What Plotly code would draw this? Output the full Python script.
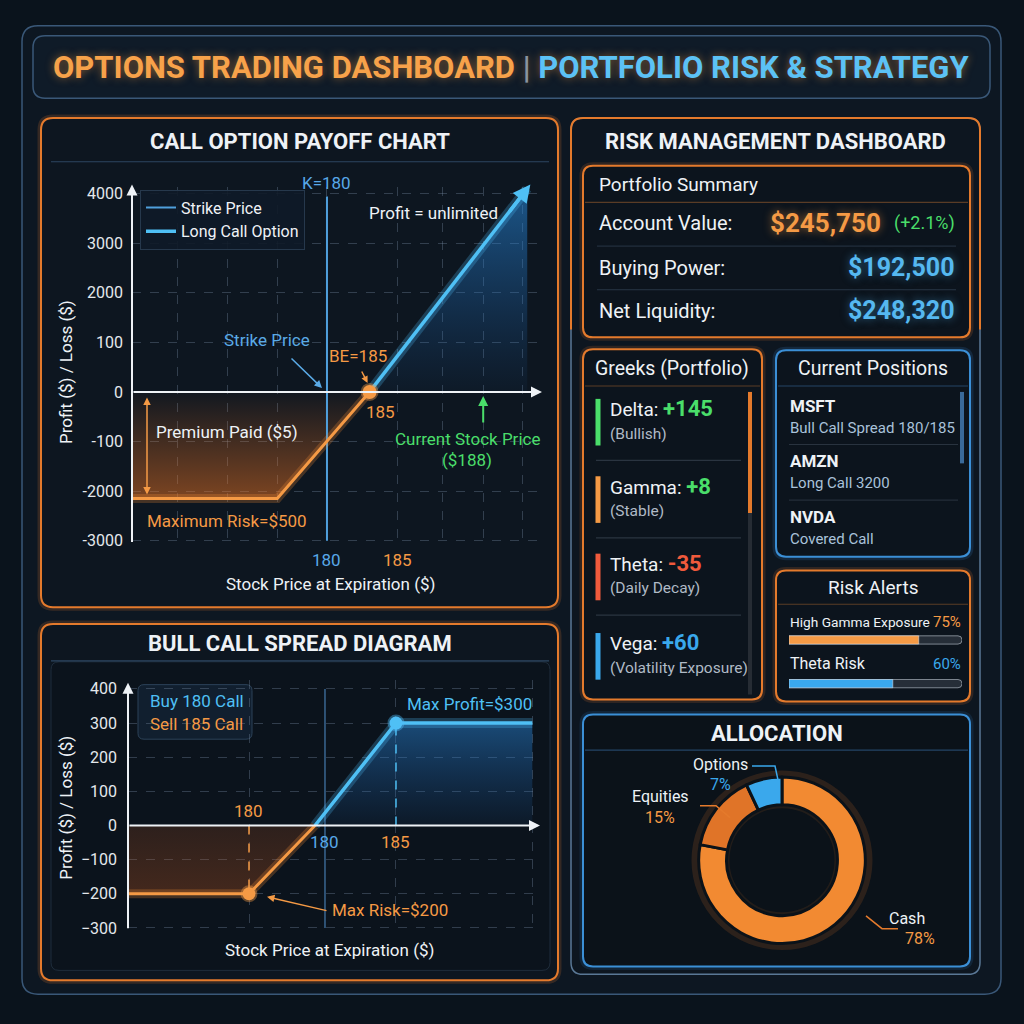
import plotly.graph_objects as go

W = H = 1024
def X(p): return p / W
def Y(p): return 1 - p / H

# ---------------- data ----------------
call_x = [166.3, 176.5, 183.0, 194.1]          # stock price positions of the long-call payoff
call_y = [-2.15, -2.15, 0.0, 4.1]               # payoff in tick-index units of the labelled axis
call_ytick_pos = [-3, -2, -1, 0, 1, 2, 3, 4]
call_ytick_text = ["-3000", "-2000", "-100", "0", "100", "2000", "3000", "4000"]
call_xgrid = [169.5, 173.0, 176.5, 180.0, 185.0, 188.1, 191.0, 193.8]
strike_price = 180
strike_top = 3.94
breakeven_x = 183.0
current_price_x = 191.0

spread_x = [166.13, 174.65, 179.3, 185.0, 194.6]
spread_y = [-200, -200, 0, 300, 300]
spread_yticks = [-300, -200, -100, 0, 100, 200, 300, 400]
spread_xgrid = [174.65, 185.0, 194.6]

alloc_labels = ["Cash", "Equities", "Options"]
alloc_values = [78, 15, 7]

alert_labels = ["High Gamma Exposure", "Theta Risk"]
alert_values = [75, 60]

greek_names = ["Delta", "Gamma", "Theta", "Vega"]
greek_values = ["+145", "+8", "-35", "+60"]
greek_notes = ["(Bullish)", "(Stable)", "(Daily Decay)", "(Volatility Exposure)"]

position_tickers = ["MSFT", "AMZN", "NVDA"]
position_desc = ["Bull Call Spread 180/185", "Long Call 3200", "Covered Call"]

summary_labels = ["Account Value:", "Buying Power:", "Net Liquidity:"]
summary_values = ["$245,750", "$192,500", "$248,320"]
account_change = "(+2.1%)"

# ---------------- styles ----------------
FONT = "Roboto"
ORANGE = "#f59a45"
ORANGE_D = "#e47a2c"
BLUE = "#4fc0f5"
BLUE_S = "#4f9fdc"
GREEN = "#4ade6a"
RED = "#f05a3c"
WHITE = "#eef2f6"
GREY_T = "#b0bac6"
BORDER_B = "#3a5878"
GRID = "rgba(120,140,165,0.35)"
BG = "#0a131c"
PANEL = "#0d1620"

fig = go.Figure()
shapes = []
annotations = []


def rpath(x0, y0, x1, y1, r):
    a0, a1 = X(x0), X(x1)
    b0, b1 = Y(y0), Y(y1)
    rx, ry = r / W, r / H
    return (f"M {a0+rx},{b0} L {a1-rx},{b0} Q {a1},{b0} {a1},{b0-ry} "
            f"L {a1},{b1+ry} Q {a1},{b1} {a1-rx},{b1} L {a0+rx},{b1} "
            f"Q {a0},{b1} {a0},{b1+ry} L {a0},{b0-ry} Q {a0},{b0} {a0+rx},{b0} Z")


def rrect(x0, y0, x1, y1, r=10, line=None, width=1.5, fill=None, glow=None):
    p = rpath(x0, y0, x1, y1, r)
    if glow:
        shapes.append(dict(type="path", path=p, xref="paper", yref="paper",
                           line=dict(color=glow, width=7), layer="below"))
    shapes.append(dict(type="path", path=p, xref="paper", yref="paper",
                       line=dict(color=line or "rgba(0,0,0,0)", width=width if line else 0),
                       fillcolor=fill or "rgba(0,0,0,0)", layer="below"))


def seg(x0, y0, x1, y1, color, width=1, dash=None):
    shapes.append(dict(type="line", xref="paper", yref="paper",
                       x0=X(x0), y0=Y(y0), x1=X(x1), y1=Y(y1),
                       line=dict(color=color, width=width, dash=dash), layer="below"))


def txt(s, x, y, size=17, color=WHITE, xanchor="center", weight=None, shadow=None, angle=0):
    f = dict(family=FONT, size=size, color=color)
    if weight:
        f["weight"] = weight
    if shadow:
        f["shadow"] = shadow
    annotations.append(dict(text=s, x=X(x), y=Y(y), xref="paper", yref="paper",
                            xanchor=xanchor, yanchor="middle", showarrow=False,
                            font=f, textangle=angle))


def arrow(tipx, tipy, tailx, taily, color, width=2, head=2, size=1.0, side="end"):
    annotations.append(dict(text="", x=X(tipx), y=Y(tipy), xref="paper", yref="paper",
                            ax=tailx - tipx, ay=taily - tipy, axref="pixel", ayref="pixel",
                            showarrow=True, arrowhead=head, arrowsize=size, arrowwidth=width,
                            arrowcolor=color, arrowside=side, startarrowhead=head,
                            startarrowsize=size, standoff=0, startstandoff=0))


# ---------------- frames ----------------
rrect(22, 24, 1001, 1000, 16, line=BORDER_B, width=1.5, fill="#0d1722")
rrect(33, 34, 990, 97, 12, line=BORDER_B, width=1.5, fill="#0f1b28")
rrect(41, 117, 558, 610, 12, line=ORANGE_D, width=2, fill=PANEL, glow="rgba(240,130,50,0.18)")
rrect(41, 627, 558, 986, 12, line=ORANGE_D, width=2, fill=PANEL, glow="rgba(240,130,50,0.18)")
rrect(51, 665, 550, 976, 8, line="#1f2d3c", width=1, fill="#0b131c")
rrect(571, 117, 980, 980, 12, line="#5a7896", width=1.5, fill=PANEL)
# orange upper part of the right panel border
shapes.append(dict(type="path", xref="paper", yref="paper", layer="below",
                   path=(f"M {X(571)},{Y(330)} L {X(571)},{Y(129)} Q {X(571)},{Y(117)} {X(583)},{Y(117)} "
                         f"L {X(968)},{Y(117)} Q {X(980)},{Y(117)} {X(980)},{Y(129)} L {X(980)},{Y(330)}"),
                   line=dict(color=ORANGE_D, width=2)))
seg(51, 161, 549, 161, "#2c4660", 1.2)
seg(51, 664, 549, 664, "#2c4660", 1.2)

# right side boxes
rrect(583, 165, 970, 338, 10, line=ORANGE_D, width=2, fill="#0c141d", glow="rgba(240,130,50,0.15)")
seg(585, 202, 968, 202, "#5a3c26", 1.2)
seg(597, 246, 956, 246, "#283646", 1)
seg(597, 290, 956, 290, "#283646", 1)

rrect(583, 350, 762, 703, 10, line=ORANGE_D, width=2, fill="#0c141d", glow="rgba(240,130,50,0.15)")
seg(585, 387, 760, 387, "#5a3c26", 1.2)
for yy in (462, 540, 618):
    seg(596, yy, 741, yy, "#2a3440", 1.2)
seg(750, 393, 750, 698, "#262c34", 4)
seg(750, 393, 750, 515, ORANGE_D, 4)

rrect(776, 351, 970, 559, 10, line="#3b8fd6", width=2, fill="#0c141d", glow="rgba(60,150,230,0.15)")
seg(778, 387, 968, 387, "#254466", 1.2)
seg(789, 446, 958, 446, "#2a3440", 1)
seg(789, 502, 958, 502, "#2a3440", 1)
seg(962, 393, 962, 465, "#3a6a9a", 4)

rrect(776, 573, 970, 705, 10, line=ORANGE_D, width=2, fill="#0c141d", glow="rgba(240,130,50,0.15)")
seg(778, 607, 968, 607, "#5a3c26", 1.2)

rrect(583, 718, 970, 972, 10, line="#3b8fd6", width=2, fill="#0b1219", glow="rgba(60,150,230,0.12)")
seg(585, 754, 968, 754, "#254466", 1.2)

# ---------------- chart 1: long call payoff ----------------
fig.add_trace(go.Scatter(x=call_x[:3], y=call_y[:3], mode="lines", line=dict(width=0),
                         fill="tozeroy",
                         fillgradient=dict(type="vertical",
                                           colorscale=[[0, "rgba(235,115,35,0.50)"], [1, "rgba(235,115,35,0.02)"]]),
                         xaxis="x", yaxis="y", showlegend=False, hoverinfo="skip"))
fig.add_trace(go.Scatter(x=call_x[2:], y=call_y[2:], mode="lines", line=dict(width=0),
                         fill="tozeroy",
                         fillgradient=dict(type="vertical",
                                           colorscale=[[0, "rgba(30,100,180,0.05)"], [1, "rgba(40,140,225,0.55)"]]),
                         xaxis="x", yaxis="y", showlegend=False, hoverinfo="skip"))
fig.add_trace(go.Scatter(x=[strike_price, strike_price], y=[call_ytick_pos[0], strike_top], mode="lines",
                         line=dict(color=BLUE_S, width=2), name="Strike Price",
                         xaxis="x", yaxis="y", showlegend=True, legendrank=1))
fig.add_trace(go.Scatter(x=call_x[:3], y=call_y[:3], mode="lines",
                         line=dict(color="rgba(245,140,50,0.25)", width=9),
                         xaxis="x", yaxis="y", showlegend=False, hoverinfo="skip"))
fig.add_trace(go.Scatter(x=call_x[:3], y=call_y[:3], mode="lines", line=dict(color=ORANGE, width=3),
                         xaxis="x", yaxis="y", showlegend=False))
fig.add_trace(go.Scatter(x=call_x[2:], y=call_y[2:], mode="lines",
                         line=dict(color="rgba(80,190,250,0.25)", width=10),
                         xaxis="x", yaxis="y", showlegend=False, hoverinfo="skip"))
fig.add_trace(go.Scatter(x=call_x[2:], y=call_y[2:], mode="lines", line=dict(color=BLUE, width=3.5),
                         name="Long Call Option", xaxis="x", yaxis="y", showlegend=True, legendrank=2))
fig.add_trace(go.Scatter(x=[breakeven_x], y=[0], mode="markers",
                         marker=dict(color=ORANGE, size=14, line=dict(color="rgba(245,154,69,0.4)", width=4)),
                         xaxis="x", yaxis="y", showlegend=False))

# axis geometry chart 1
c1_dom_x = (132, 540)
c1_dom_y = (548, 186)
c1_xr = (166.27, 195.0)
c1_yr = (-3.1, 4.14)
def c1px(xv): return c1_dom_x[0] + (xv - c1_xr[0]) / (c1_xr[1] - c1_xr[0]) * (c1_dom_x[1] - c1_dom_x[0])
def c1py(yv): return c1_dom_y[0] - (yv - c1_yr[0]) / (c1_yr[1] - c1_yr[0]) * (c1_dom_y[0] - c1_dom_y[1])

# arrowhead at end of the long call line
tipx, tipy = c1px(call_x[-1]), c1py(call_y[-1])
bx, by = c1px(call_x[-2]), c1py(call_y[-2])
arrow(tipx + (tipx - bx) * 0.02, tipy + (tipy - by) * 0.02, tipx - (tipx - bx) * 0.12,
      tipy - (tipy - by) * 0.12, BLUE, width=3.5, head=2, size=1.0)

# axes arrows
arrow(132, 184, 132, c1py(-3), WHITE, width=2, head=2, size=1.1)
arrow(542, c1py(0), 132, c1py(0), WHITE, width=2, head=2, size=1.1)

txt("K=180", c1px(strike_price), 182, 17, "#58a8e8")
txt("Profit = unlimited", 433, 213, 17, WHITE)
txt("Strike Price", 267, 341, 17, "#5aaae6")
arrow(c1px(strike_price) - 5, c1py(0) - 4, 290, 358, "#5aaae6", width=1.5, head=2, size=1.0)
txt("BE=185", 358, 357, 17, ORANGE)
arrow(c1px(breakeven_x) - 2, c1py(0) - 9, 361, 371, ORANGE, width=1.5, head=2, size=0.9)
txt("185", 380, 413, 17, ORANGE)
txt("Premium Paid ($5)", 227, 433, 17, WHITE)
arrow(147, c1py(call_y[0]) - 4, 147, c1py(0) + 5, ORANGE, width=1.5, head=2, size=1.0, side="end+start")
txt("Maximum Risk=$500", 227, 523, 17, ORANGE)
txt("Current Stock Price", 467, 440, 17, GREEN)
txt("($188)", 467, 462, 17, GREEN)
arrow(c1px(current_price_x), c1py(0) + 4, c1px(current_price_x), 425, GREEN, width=2, head=2, size=1.0)
txt("180", c1px(strike_price), 562, 17, "#58a8e8")
txt("185", c1px(185), 562, 17, ORANGE)
txt("Profit ($) / Loss ($)", 66, 373, 17, WHITE, angle=-90)
txt("Stock Price at Expiration ($)", 330, 587, 17, WHITE)

# ---------------- chart 2: bull call spread ----------------
c2_dom_x = (128, 538)
c2_dom_y = (937, 683)
c2_xr = (166.13, 195.0)
c2_yr = (-311, 427)
def c2px(xv): return c2_dom_x[0] + (xv - c2_xr[0]) / (c2_xr[1] - c2_xr[0]) * (c2_dom_x[1] - c2_dom_x[0])
def c2py(yv): return c2_dom_y[0] - (yv - c2_yr[0]) / (c2_yr[1] - c2_yr[0]) * (c2_dom_y[0] - c2_dom_y[1])

fig.add_trace(go.Scatter(x=spread_x[:3], y=spread_y[:3], mode="lines", line=dict(width=0), fill="tozeroy",
                         fillgradient=dict(type="vertical",
                                           colorscale=[[0, "rgba(200,90,30,0.30)"], [1, "rgba(200,90,30,0.18)"]]),
                         xaxis="x2", yaxis="y2", showlegend=False, hoverinfo="skip"))
fig.add_trace(go.Scatter(x=spread_x[2:], y=spread_y[2:], mode="lines", line=dict(width=0), fill="tozeroy",
                         fillgradient=dict(type="vertical",
                                           colorscale=[[0, "rgba(30,100,180,0.08)"], [1, "rgba(40,130,210,0.50)"]]),
                         xaxis="x2", yaxis="y2", showlegend=False, hoverinfo="skip"))
fig.add_trace(go.Scatter(x=[strike_price, strike_price], y=[spread_yticks[0], spread_yticks[-1]], mode="lines",
                         line=dict(color="#3a6792", width=1.5), xaxis="x2", yaxis="y2", showlegend=False))
fig.add_trace(go.Scatter(x=[spread_x[1], spread_x[1]], y=[0, spread_y[1]], mode="lines",
                         line=dict(color=ORANGE, width=1.5, dash="dash"), xaxis="x2", yaxis="y2", showlegend=False))
fig.add_trace(go.Scatter(x=[spread_x[3], spread_x[3]], y=[0, spread_y[3]], mode="lines",
                         line=dict(color=BLUE, width=1.5, dash="dash"), xaxis="x2", yaxis="y2", showlegend=False))
fig.add_trace(go.Scatter(x=spread_x[:3], y=spread_y[:3], mode="lines",
                         line=dict(color="rgba(245,140,50,0.25)", width=9),
                         xaxis="x2", yaxis="y2", showlegend=False, hoverinfo="skip"))
fig.add_trace(go.Scatter(x=spread_x[:3], y=spread_y[:3], mode="lines", line=dict(color=ORANGE, width=3),
                         xaxis="x2", yaxis="y2", showlegend=False))
fig.add_trace(go.Scatter(x=spread_x[2:], y=spread_y[2:], mode="lines",
                         line=dict(color="rgba(80,190,250,0.25)", width=10),
                         xaxis="x2", yaxis="y2", showlegend=False, hoverinfo="skip"))
fig.add_trace(go.Scatter(x=spread_x[2:], y=spread_y[2:], mode="lines", line=dict(color=BLUE, width=3.5),
                         xaxis="x2", yaxis="y2", showlegend=False))
fig.add_trace(go.Scatter(x=[spread_x[1]], y=[spread_y[1]], mode="markers",
                         marker=dict(color=ORANGE, size=13, line=dict(color="rgba(245,154,69,0.4)", width=4)),
                         xaxis="x2", yaxis="y2", showlegend=False))
fig.add_trace(go.Scatter(x=[spread_x[3]], y=[spread_y[3]], mode="markers",
                         marker=dict(color=BLUE, size=13, line=dict(color="rgba(80,190,250,0.4)", width=4)),
                         xaxis="x2", yaxis="y2", showlegend=False))

arrow(128, 686, 128, c2py(-300), WHITE, width=2, head=2, size=1.1)
arrow(540, c2py(0), 128, c2py(0), WHITE, width=2, head=2, size=1.1)
rrect(138, 688, 252, 743, 6, line="#2c4258", width=1, fill="rgba(18,32,48,0.95)")
txt("Buy 180 Call", 148, 705, 17, BLUE, xanchor="left")
txt("Sell 185 Call", 148, 728, 17, ORANGE, xanchor="left")
txt("Max Profit=$300", 469, 708, 17, BLUE)
txt("180", c2px(spread_x[1]), 815, 17, ORANGE)
txt("180", c2px(strike_price), 847, 17, "#58a8e8")
txt("185", c2px(185), 847, 17, ORANGE)
txt("Max Risk=$200", 390, 915, 17, ORANGE)
arrow(c2px(spread_x[1]) + 18, c2py(spread_y[1]) + 3, 328, 916, ORANGE, width=1.5, head=2, size=1.0)
txt("Profit ($) / Loss ($)", 66, 812, 17, WHITE, angle=-90)
txt("Stock Price at Expiration ($)", 329, 955, 17, WHITE)

# ---------------- risk alerts bars ----------------
alert_rows = [1, 0]
fig.add_trace(go.Bar(x=[100] * len(alert_values), y=alert_rows, orientation="h", width=0.19,
                     marker=dict(color="#262e38", cornerradius=4), xaxis="x3", yaxis="y3",
                     showlegend=False, hoverinfo="skip"))
fig.add_trace(go.Bar(x=alert_values, y=alert_rows, orientation="h", width=0.19,
                     marker=dict(color=[ORANGE, "#3aa8ee"], cornerradius=4), xaxis="x3", yaxis="y3",
                     showlegend=False))

# ---------------- allocation donut ----------------
cx, cy, R = 782, 865, 84
for rr, al, wd in ((R + 3, 0.14, 7), (R - 29, 0.10, 5)):
    shapes.append(dict(type="circle", xref="paper", yref="paper",
                       x0=X(cx - rr), x1=X(cx + rr), y0=Y(cy + rr), y1=Y(cy - rr),
                       line=dict(color=f"rgba(245,130,40,{al})", width=wd), layer="below"))
fig.add_trace(go.Pie(labels=alloc_labels, values=alloc_values, hole=0.665, sort=False,
                     direction="clockwise", rotation=0, textinfo="none",
                     marker=dict(colors=["#f28a32", "#e07428", "#3aa8ec"], line=dict(color="#0b1219", width=3)),
                     domain=dict(x=[X(cx - R), X(cx + R)], y=[Y(cy + R), Y(cy - R)]),
                     showlegend=False, hoverinfo="label+percent"))

# donut labels and leaders
def poly(points, color):
    d = "M " + " L ".join(f"{X(a)},{Y(b)}" for a, b in points)
    shapes.append(dict(type="path", path=d, xref="paper", yref="paper",
                       line=dict(color=color, width=1.5), layer="above"))
poly([(752, 770), (775, 770), (778, 784)], "#3aa8ec")
poly([(700, 810), (716, 810), (730, 822)], ORANGE_D)
poly([(866, 921), (882, 934), (898, 934)], ORANGE_D)
txt(alloc_labels[2], 720, 768, 16, WHITE)
txt(f"{alloc_values[2]}%", 720, 789, 16, "#3aa8ec")
txt(alloc_labels[1], 660, 801, 16, WHITE)
txt(f"{alloc_values[1]}%", 660, 822, 16, ORANGE)
txt(alloc_labels[0], 907, 924, 16, WHITE)
txt(f"{alloc_values[0]}%", 920, 944, 16, ORANGE)

# ---------------- titles / text ----------------
annotations.append(dict(
    text=("<b><span style='color:#f7a24a'>OPTIONS TRADING DASHBOARD</span>"
          "<span style='color:#8a94a0'> | </span>"
          "<span style='color:#5cc2f5'>PORTFOLIO RISK &amp; STRATEGY</span></b>"),
    x=X(511), y=Y(66), xref="paper", yref="paper", xanchor="center", yanchor="middle", showarrow=False,
    font=dict(family=FONT, size=31, shadow="0px 0px 8px rgba(240,150,60,0.55)")))
txt("<b>CALL OPTION PAYOFF CHART</b>", 300, 141, 22, WHITE)
txt("<b>BULL CALL SPREAD DIAGRAM</b>", 300, 647, 22, WHITE)
txt("<b>RISK MANAGEMENT DASHBOARD</b>", 775, 141, 22, WHITE)

txt("Portfolio Summary", 597, 184, 19, WHITE, xanchor="left")
row_y = [223, 268, 311]
for lab, yy in zip(summary_labels, row_y):
    txt(lab, 597, yy, 20, WHITE, xanchor="left")
txt(f"<b>{summary_values[0]}</b>", 883, row_y[0], 26, ORANGE, xanchor="right",
    shadow="0px 0px 8px rgba(245,150,60,0.6)")
txt(account_change, 957, row_y[0], 18, GREEN, xanchor="right")
txt(f"<b>{summary_values[1]}</b>", 957, row_y[1], 25, "#55b8f0", xanchor="right",
    shadow="0px 0px 8px rgba(80,180,240,0.5)")
txt(f"<b>{summary_values[2]}</b>", 957, row_y[2], 25, "#55b8f0", xanchor="right",
    shadow="0px 0px 8px rgba(80,180,240,0.5)")

txt("Greeks (Portfolio)", 672, 369, 19.5, WHITE)
greek_colors = [GREEN, ORANGE, RED, "#3aa8ec"]
greek_val_colors = [GREEN, GREEN, RED, "#3aa8ec"]
greek_y = [410, 488, 566, 646]
for n, v, note, c, vc, yy in zip(greek_names, greek_values, greek_notes, greek_colors, greek_val_colors, greek_y):
    seg(598, yy - 10, 598, yy + 37, c, 5)
    txt(f"{n}: <b><span style='color:{vc};font-size:22px'>{v}</span></b>", 608, yy, 19, WHITE, xanchor="left")
    txt(note, 608, yy + 25, 15.5, GREY_T, xanchor="left")

txt("Current Positions", 873, 369, 19.5, WHITE)
pos_y = [407, 463, 519]
for t, d, yy in zip(position_tickers, position_desc, pos_y):
    txt(f"<b>{t}</b>", 788, yy, 17, WHITE, xanchor="left")
    txt(d, 788, yy + 22, 15, "#a9c2da", xanchor="left")

txt("Risk Alerts", 873, 590, 19, WHITE)
txt(alert_labels[0], 788, 625, 13.7, WHITE, xanchor="left")
txt(f"{alert_values[0]}%", 963, 625, 15, ORANGE, xanchor="right")
txt(alert_labels[1], 788, 667, 16, WHITE, xanchor="left")
txt(f"{alert_values[1]}%", 963, 667, 15, "#3aa8ec", xanchor="right")

txt("<b>ALLOCATION</b>", 777, 737, 22, WHITE)

# ---------------- layout ----------------
ax_common = dict(showline=False, zeroline=False, ticks="", fixedrange=True)
fig.update_layout(
    width=W, height=H, margin=dict(l=0, r=0, t=0, b=0),
    paper_bgcolor=BG, plot_bgcolor="rgba(0,0,0,0)",
    font=dict(family=FONT, color=WHITE),
    barmode="overlay",
    shapes=shapes, annotations=annotations,
    showlegend=True,
    legend=dict(x=X(140), y=Y(189), xanchor="left", yanchor="top",
                bgcolor="rgba(14,26,40,0.9)", bordercolor="#26384c", borderwidth=1,
                font=dict(family=FONT, size=16, color=WHITE), itemwidth=30, tracegroupgap=0),
    xaxis=dict(domain=[X(c1_dom_x[0]), X(c1_dom_x[1])], range=list(c1_xr), tickvals=call_xgrid,
               showticklabels=False, showgrid=True, gridcolor=GRID, griddash="dash", gridwidth=1,
               anchor="y", **ax_common),
    yaxis=dict(domain=[Y(c1_dom_y[0]), Y(c1_dom_y[1])], range=list(c1_yr), tickvals=call_ytick_pos,
               ticktext=call_ytick_text, showgrid=True, gridcolor=GRID, griddash="dash",
               tickfont=dict(family=FONT, size=16, color="#e4e8ec"), ticklabelstandoff=8,
               anchor="x", **ax_common),
    xaxis2=dict(domain=[X(c2_dom_x[0]), X(c2_dom_x[1])], range=list(c2_xr), tickvals=spread_xgrid,
                showticklabels=False, showgrid=True, gridcolor=GRID, griddash="dash",
                anchor="y2", **ax_common),
    yaxis2=dict(domain=[Y(c2_dom_y[0]), Y(c2_dom_y[1])], range=list(c2_yr), tickvals=spread_yticks,
                showgrid=True, gridcolor=GRID, griddash="dash",
                tickfont=dict(family=FONT, size=16, color="#e4e8ec"), ticklabelstandoff=10,
                anchor="x2", **ax_common),
    xaxis3=dict(domain=[X(789), X(962)], range=[0, 100], visible=False, anchor="y3", fixedrange=True),
    yaxis3=dict(domain=[Y(697), Y(633)], range=[-0.227, 1.227], visible=False, anchor="x3", fixedrange=True),
)

fig.write_html("out.html", config={"displayModeBar": False},
               post_script="document.body.style.margin='0px';document.body.style.background='#0a131c';")
